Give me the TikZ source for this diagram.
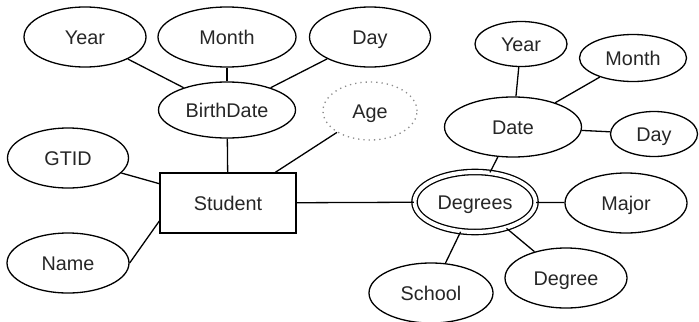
\documentclass[tikz,border=0pt]{standalone}
\usepackage{fontspec}
\setmainfont{Liberation Sans}
\usetikzlibrary{shapes.geometric, positioning}

\begin{document}
\begin{tikzpicture}[
    x=0.5pt, y=-0.5pt,
    attr/.style={ellipse, draw, line width=0.65pt, inner sep=0pt,
                 minimum width=61pt, minimum height=30pt,
                 text height=7.1pt, text depth=0pt,
                 font=\fontsize{9.9}{12}\selectfont, text=black!85},
    small/.style={attr, minimum height=22.5pt},
    derived/.style={attr, draw=black!45, dotted},
    multi/.style={attr, double, double distance=2pt, minimum width=60.5pt},
    entity/.style={rectangle, draw, line width=0.65pt, minimum width=68pt,
                   minimum height=30pt, text height=7.1pt, text depth=0pt,
                   font=\fontsize{9.9}{12}\selectfont, text=black!85},
    link/.style={draw, line width=0.65pt}
  ]
  \useasboundingbox (0,0) rectangle (699,321);

  % Entity
  \node[entity] (student) at (228,203) {Student};

  % Student attributes
  \node[attr, minimum height=28pt, minimum width=68.5pt] (birth) at (227,110) {BirthDate};
  \node[attr] (byear) at (85,37) {Year};
  \node[attr, minimum width=69pt] (bmonth) at (227,37) {Month};
  \node[attr, minimum width=60.5pt] (bday) at (370,37) {Day};
  \node[derived, minimum width=47pt, minimum height=29pt] (age) at (370,111) {Age};
  \node[attr, minimum width=60.5pt] (gtid) at (68,158) {GTID};
  \node[attr] (name) at (68,263) {Name};

  % Multivalued attribute
  \node[multi] (degrees) at (475,202) {Degrees};
  \node[attr, minimum width=68.5pt] (date) at (513,127) {Date};
  \node[small, minimum width=46pt] (dyear) at (521,44) {Year};
  \node[small, minimum width=53.5pt, minimum height=23.5pt] (dmonth) at (633,58) {Month};
  \node[small, minimum width=43.5pt] (dday) at (654,134) {Day};
  \node[attr] (major) at (626,203) {Major};
  \node[attr] (degree) at (566,278) {Degree};
  \node[attr, minimum width=62pt] (school) at (431,293) {School};

  % Links
  \draw[link] (byear) -- (birth);
  \draw[link] (bmonth) -- (birth);
  \draw[link] (bday) -- (birth);
  \draw[link] (birth) -- (student);
  \draw[link] (age) -- (student);
  \draw[link] (gtid) -- (student);
  \draw[link] (name.east) -- ([yshift=-9pt]student.west);
  \draw[link] (student) -- (degrees);
  \draw[link] (degrees) -- (date);
  \draw[link] (date) -- (dyear);
  \draw[link] (date) -- (dmonth);
  \draw[link] (date) -- (dday);
  \draw[link] (degrees) -- (major);
  \draw[link] (degrees) -- (degree);
  \draw[link] (degrees) -- (school);
\end{tikzpicture}
\end{document}
